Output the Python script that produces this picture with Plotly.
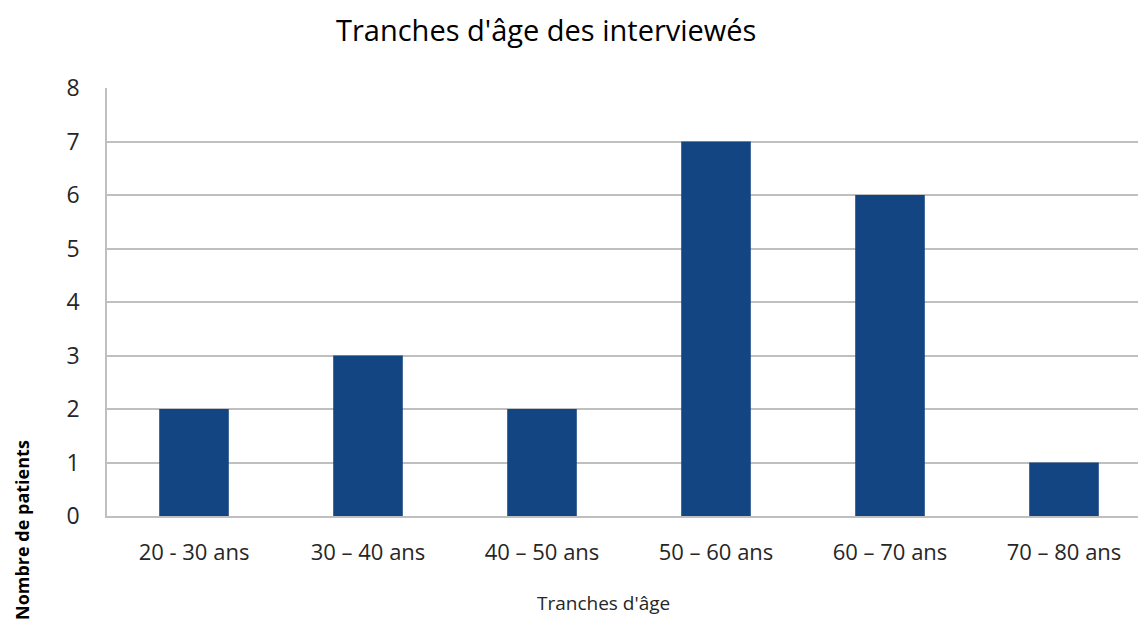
import plotly.graph_objects as go

categories = ["20 - 30 ans", "30 – 40 ans", "40 – 50 ans", "50 – 60 ans", "60 – 70 ans", "70 – 80 ans"]
values = [2, 3, 2, 7, 6, 1]
title = "Tranches d'âge des interviewés"
x_title = "Tranches d'âge"
y_title = "Nombre de patients"

FONT = "'Open Sans', sans-serif"
OFF = 8  # page body margin
W, H = 1146 - OFF, 632 - OFF
L = 107 - OFF
T = 88 - OFF
R = 0
B = H - (516 - OFF)
pw, ph = W - L - R, H - T - B

def px(x):
    return (x - OFF - L) / pw

def py(y):
    return (H - B - (y - OFF)) / ph

fig = go.Figure(go.Bar(
    x=categories, y=values, marker=dict(color="#134582", line=dict(width=0)),
    width=0.4,
))

fig.update_layout(
    width=W, height=H,
    margin=dict(l=L, r=R, t=T, b=B, autoexpand=False),
    paper_bgcolor="white", plot_bgcolor="white",
    font=dict(family=FONT, color="#262626"),
    showlegend=False,
    xaxis=dict(
        range=[-0.5, 5.5 - 5 / 174], showgrid=False, showline=True,
        linecolor="#BFBFBF", linewidth=1.5, ticks="", tickfont=dict(size=22, color="#262626"),
        ticklabelstandoff=16,
    ),
    yaxis=dict(
        range=[0, 8], dtick=1, showgrid=True, gridcolor="#BFBFBF", gridwidth=1.5,
        showline=True, linecolor="#BFBFBF", linewidth=1.5, ticks="", zeroline=False,
        tickfont=dict(size=23, color="#262626"), ticklabelstandoff=21,
    ),
    annotations=[
        dict(text=title, x=px(546), y=py(29), xref="paper", yref="paper",
             showarrow=False, font=dict(size=29, color="#000000", family=FONT),
             xanchor="center", yanchor="middle"),
        dict(text=x_title, x=px(603), y=py(603), xref="paper", yref="paper",
             showarrow=False, font=dict(size=19, color="#262626", family=FONT),
             xanchor="center", yanchor="middle"),
        dict(text="<b>" + y_title + "</b>", x=px(22), y=py(530), xref="paper", yref="paper",
             showarrow=False, textangle=-90, font=dict(size=18, color="#000000", family=FONT),
             xanchor="center", yanchor="middle"),
    ],
)

fig.write_html("out.html")
